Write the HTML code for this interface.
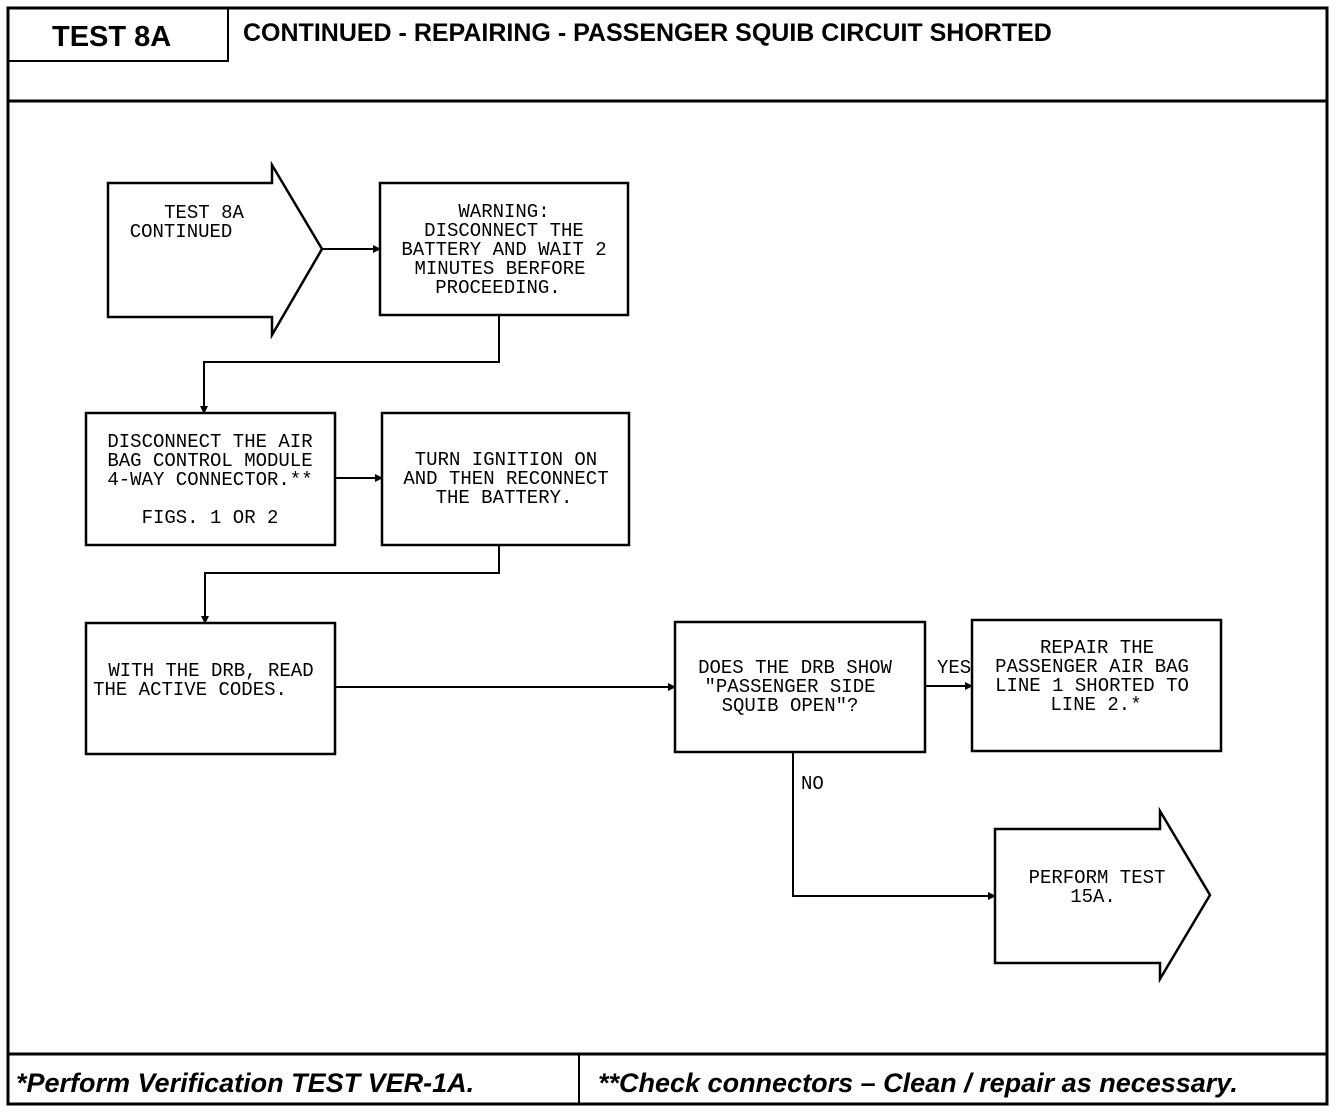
<!DOCTYPE html>
<html><head><meta charset="utf-8"><style>
html,body{margin:0;padding:0;background:#fff;}
svg{display:block;}
.m{font-family:"Liberation Mono",monospace;font-size:19px;fill:#000;}
.h{font-family:"Liberation Sans",sans-serif;font-weight:bold;fill:#000;}
</style></head><body>
<svg width="1344" height="1112" viewBox="0 0 1344 1112" xmlns="http://www.w3.org/2000/svg">
<defs><marker id="a" markerWidth="8" markerHeight="8" refX="7" refY="4" orient="auto" markerUnits="userSpaceOnUse"><path d="M0,0 L8,4 L0,8 Z" fill="#000"/></marker></defs>
<g fill="none" stroke="#000">
<rect x="8" y="8" width="1319" height="1096" stroke-width="3"/>
<line x1="8" y1="101" x2="1327" y2="101" stroke-width="3"/>
<polyline points="8,61 228,61 228,8" stroke-width="2"/>
<line x1="8" y1="1054" x2="1327" y2="1054" stroke-width="3"/>
<line x1="579" y1="1054" x2="579" y2="1104" stroke-width="2"/>
<g stroke-width="2.5">
<polygon points="108,183 272,183 272,165 322,249 272,335 272,317 108,317"/>
<rect x="380" y="183" width="248" height="132"/>
<rect x="86" y="413" width="249" height="132"/>
<rect x="382" y="413" width="247" height="132"/>
<rect x="86" y="623" width="249" height="131"/>
<rect x="675" y="622" width="250" height="130"/>
<rect x="972" y="620" width="249" height="131"/>
<polygon points="995,829 1160,829 1160,811 1210,895 1160,979 1160,963 995,963"/>
</g>
<g stroke-width="2">
<line x1="322" y1="249" x2="380" y2="249" marker-end="url(#a)"/>
<polyline points="499,315 499,362 204,362 204,413" marker-end="url(#a)"/>
<line x1="335" y1="478" x2="382" y2="478" marker-end="url(#a)"/>
<polyline points="499,545 499,573 205,573 205,623" marker-end="url(#a)"/>
<line x1="335" y1="687" x2="675" y2="687" marker-end="url(#a)"/>
<line x1="925" y1="686" x2="972" y2="686" marker-end="url(#a)"/>
<polyline points="793,752 793,896 995,896" marker-end="url(#a)"/>
</g>
</g>
<text class="h" x="52" y="46" font-size="29">TEST 8A</text>
<text class="h" x="243" y="41" font-size="25">CONTINUED - REPAIRING - PASSENGER SQUIB CIRCUIT SHORTED</text>
<text class="h" x="16" y="1092" font-size="27" font-style="italic">*Perform Verification TEST VER-1A.</text>
<text class="h" x="598" y="1092" font-size="27" font-style="italic">**Check connectors – Clean / repair as necessary.</text>
<g class="m" text-anchor="middle">
<text x="204" y="218">TEST 8A</text>
<text x="181" y="237">CONTINUED</text>
<text x="504" y="217">WARNING:</text>
<text x="504" y="236">DISCONNECT THE</text>
<text x="504" y="255">BATTERY AND WAIT 2</text>
<text x="500" y="274">MINUTES BERFORE</text>
<text x="498" y="293">PROCEEDING.</text>
<text x="210" y="447">DISCONNECT THE AIR</text>
<text x="210" y="466">BAG CONTROL MODULE</text>
<text x="210" y="485">4-WAY CONNECTOR.**</text>
<text x="210" y="523">FIGS. 1 OR 2</text>
<text x="506" y="465">TURN IGNITION ON</text>
<text x="506" y="484">AND THEN RECONNECT</text>
<text x="504" y="503">THE BATTERY.</text>
<text x="211" y="676">WITH THE DRB, READ</text>
<text x="190" y="695">THE ACTIVE CODES.</text>
<text x="795" y="673">DOES THE DRB SHOW</text>
<text x="790" y="692">"PASSENGER SIDE</text>
<text x="790" y="711">SQUIB OPEN"?</text>
<text x="1097" y="653">REPAIR THE</text>
<text x="1092" y="672">PASSENGER AIR BAG</text>
<text x="1092" y="691">LINE 1 SHORTED TO</text>
<text x="1096" y="710">LINE 2.*</text>
<text x="1097" y="883">PERFORM TEST</text>
<text x="1093" y="902">15A.</text>
</g>
<g class="m">
<text x="937" y="673">YES</text>
<text x="801" y="789">NO</text>
</g>
</svg>
</body></html>
